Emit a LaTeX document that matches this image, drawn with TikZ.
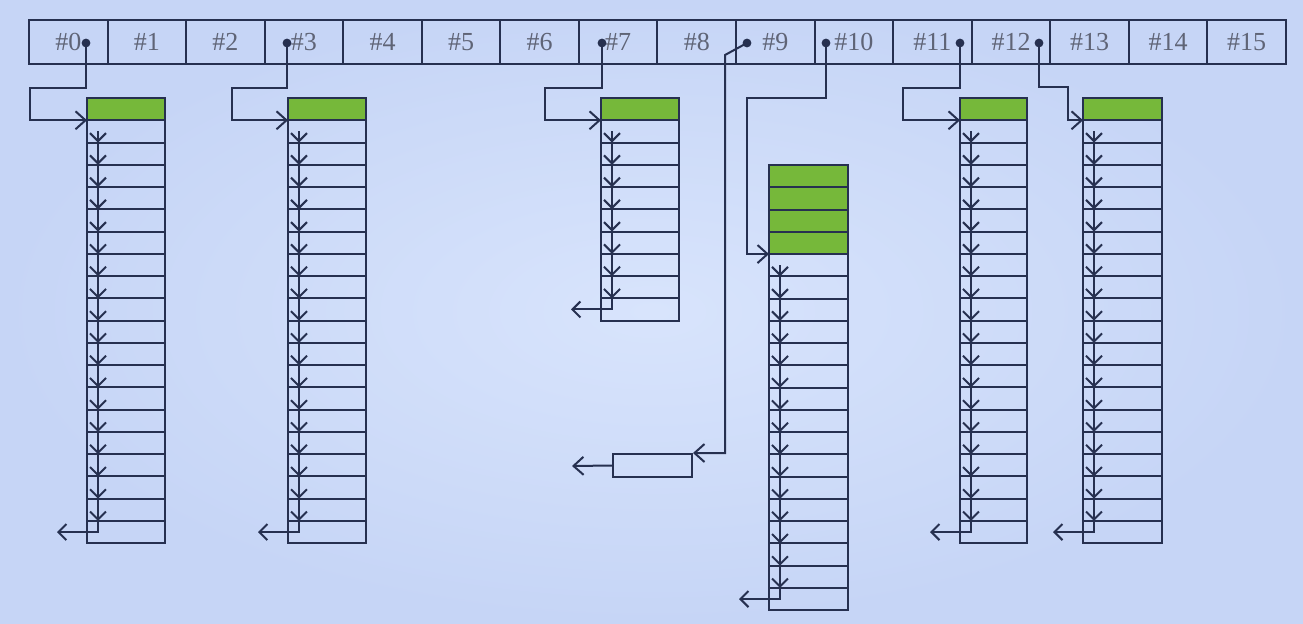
\documentclass[tikz,border=0pt]{standalone}
\usepackage{fontspec}
\setmainfont{Liberation Serif}
\usetikzlibrary{arrows.meta}
\definecolor{bgin}{RGB}{216,228,252}
\definecolor{bgout}{RGB}{198,213,246}
\definecolor{ink}{RGB}{38,48,80}
\definecolor{txt}{RGB}{95,100,118}
\definecolor{head}{RGB}{118,184,58}
\begin{document}
\begin{tikzpicture}[x=0.5pt,y=-0.5pt,line width=1pt,color=ink,
  cell/.style={draw=ink,minimum width=39.28pt,minimum height=22pt,inner sep=0pt,text=txt,font=\fontsize{13}{15}\selectfont},
  ptr/.style={-{Straight Barb[length=5pt,width=9pt]}},
  nxt/.style={-{Straight Barb[length=4pt,width=8pt]}}]
\shade[inner color=bgin,outer color=bgout] (0,0) rectangle (1303,623);

\foreach \i in {0,...,15}
  \node[cell] (c\i) at (68.28+78.56*\i,42) {\#\i};

\foreach \n/\L/\W/\T/\G/\N in {0/87/78/98/1/19, 3/288/78/98/1/19, 7/601/78/98/1/9,
  10/769/79/165/4/16, 11/960/67/98/1/19, 12/1083/79/98/1/19}{
  \pgfmathsetmacro\B{\T+\G*22.26}
  \pgfmathtruncatemacro\M{\N-1}
  \foreach \k in {1,...,\G}
    \draw[fill=head] (\L,\T+\k*22.26-22.26) rectangle ++(\W,22.26);
  \foreach \k in {1,...,\N}
    \draw (\L,\B+\k*22.26-22.26) rectangle ++(\W,22.26);
  \coordinate (h\n) at (\L,\B);
  \coordinate (e\n) at (\L-30,\B+\N*22.26-11.13);
  \draw[nxt] (\L+11,\B+11.13) -- (\L+11,\B+22.26);
  \foreach \k in {2,...,\M}
    \draw[nxt] (\L+11,\B+\k*22.26-22.26) -- (\L+11,\B+\k*22.26);
  \draw[nxt] (\L+11,\B+\M*22.26) |- (e\n);
}

\foreach \n/\x in {0/86,3/287,7/602,9/747,10/826,11/960,12/1039}
  \coordinate (p\n) at (\x,43);

\foreach \n/\x/\y in {0/30/88,3/232/88,7/545/88,10/747/98,11/903/88,12/1068/87}
  \draw[ptr] (p\n) |- (\x,\y) |- (h\n);

\node[draw,minimum width=39.5pt,minimum height=11.5pt,inner sep=0pt] (b9) at (652.5,465.5) {};
\coordinate (k9) at (725,55);
\coordinate (e9) at (572,466);
\draw[ptr] (p9) -- (k9) |- (b9.north east);
\draw[ptr] (b9.west) -- (e9);

\foreach \n in {0,3,7,9,10,11,12}
  \fill (p\n) circle (2.2pt);
\end{tikzpicture}
\end{document}
